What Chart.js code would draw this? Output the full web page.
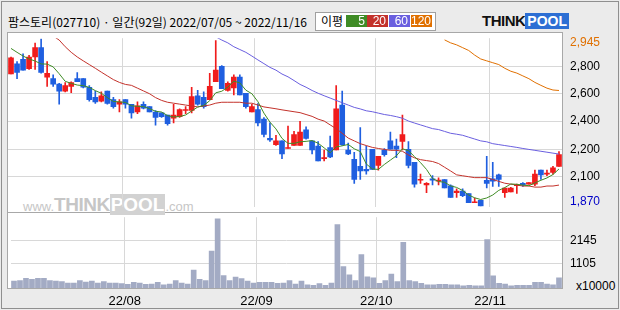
<!DOCTYPE html>
<html>
<head>
<meta charset="utf-8">
<script src="https://cdn.jsdelivr.net/npm/chart.js@4.4.1/dist/chart.umd.min.js"></script>
<style>
  html, body { margin: 0; padding: 0; }
  body { width: 620px; height: 310px; background: #ebebeb; position: relative; overflow: hidden; font-family: "Liberation Sans", Arial, sans-serif; }
  .frame { position: absolute; left: 1px; top: 1px; width: 618px; height: 308px; box-sizing: border-box; border: 1px solid #8f8f8f; }
  .panel { position: absolute; left: 7px; width: 556px; box-sizing: border-box; border: 1px solid #a8a8a8; background: #fff; }
  #p1 { top: 32px; height: 181px; }
  #p2 { top: 212px; height: 77px; }
  canvas { position: absolute; }
  #price { left: 8px; top: 23px; }
  #volume { left: 8px; top: 202px; }
  #title { position: absolute; left: 8px; top: 14px; font: 12px "Noto Sans CJK KR"; line-height: 16px; color: #000; white-space: nowrap; }
  #maBox { position: absolute; left: 315px; top: 12px; width: 121px; height: 19px; box-sizing: border-box; border: 1px solid #a0a0a0; background: #fff; }
  #maLbl { position: absolute; left: 321px; top: 13px; font: 12px "Noto Sans CJK KR"; line-height: 16px; }
  .ma { position: absolute; top: 15px; width: 21px; height: 12px; box-sizing: border-box; padding-right: 2px; text-align: right; color: #fff; font: 12px "Liberation Sans"; line-height: 12px; }
  #logo { position: absolute; left: 482px; top: 13px; height: 16px; white-space: nowrap; }
  #logo .think { font: bold 15px "Liberation Sans"; color: #111; letter-spacing: -0.5px; vertical-align: top; line-height: 16px; }
  #logo .pool { display: inline-block; font: bold 14px "Liberation Sans"; color: #fff; background: #2d6fd4; padding: 0 2px; line-height: 16px; vertical-align: top; }
  #wm { position: absolute; left: 23px; top: 194px; color: #c6c6c6; white-space: nowrap; }
  #wm .s { font: 13px "Liberation Sans"; }
  #wm .b { font: bold 19px "Liberation Sans"; letter-spacing: -0.5px; }
  #wm .p { font: bold 19px "Liberation Sans"; color: #fff; background: #d2d2d2; padding: 0 1px; }
  #unit { position: absolute; left: 576px; top: 279px; font: 12px "Liberation Sans"; color: #000; }
</style>
</head>
<body>
<div class="frame"></div>
<div class="panel" id="p1"></div>
<div class="panel" id="p2"></div>
<div id="wm"><span class="s">www.</span><span class="b">THINK</span><span class="p">POOL</span><span class="s">.com</span></div>
<div id="title">팜스토리(027710) · 일간(92일) 2022/07/05 ~ 2022/11/16</div>
<div id="maBox"></div>
<div id="maLbl">이평</div>
<div id="logo"><span class="think">THINK</span><span class="pool">POOL</span></div>
<div id="unit">x10000</div>
<canvas id="price" width="612" height="199"></canvas>
<canvas id="volume" width="612" height="108"></canvas>
<script>
// trading days (2022)
const julDays = [5,6,7,8,11,12,13,14,15,18,19,20,21,22,25,26,27,28,29];
const augDays = [1,2,3,4,5,8,9,10,11,12,16,17,18,19,22,23,24,25,26,29,30,31];
const sepDays = [1,2,5,6,7,8,13,14,15,16,19,20,21,22,23,26,27,28,29,30];
const octDays = [4,5,6,7,11,12,13,14,17,18,19,20,21,24,25,26,27,28,31];
const novDays = [1,2,3,4,7,8,9,10,11,14,15,16];

const opens = [2720,2785,2815,2755,2830,2890,2700,2690,2655,2610,
  2640,2690,2690,2635,2570,2545,2610,2555,2525,2555,
  2525,2475,2525,2510,2475,2470,2455,2435,2445,2485,
  2485,2580,2570,2555,2670,2770,2615,2630,2700,2595,
  2475,2490,2430,2305,2265,2290,2240,2260,2260,2360,
  2290,2255,2175,2245,2230,2520,2230,2170,2125,2105,
  2235,2130,2230,2290,2255,2285,2235,2150,2035,2005,
  2045,2030,2040,2000,1955,1965,1950,1890,1905,2035,
  2045,2070,1955,1960,2000,2015,2010,2010,2100,2075,
  2085,2125];
const highs = [2830,2800,2850,2840,2920,2945,2800,2715,2660,2665,
  2670,2730,2690,2645,2610,2605,2610,2570,2555,2555,
  2525,2540,2540,2510,2485,2470,2455,2525,2495,2510,
  2635,2615,2605,2725,2935,2775,2670,2715,2715,2595,
  2525,2530,2440,2405,2325,2290,2385,2350,2415,2380,
  2290,2285,2230,2320,2645,2610,2275,2215,2375,2255,
  2235,2190,2240,2345,2300,2455,2285,2150,2075,2020,
  2065,2050,2040,2005,1980,1980,1950,1920,1905,2190,
  2150,2075,1985,1990,2010,2020,2020,2100,2100,2100,
  2125,2220];
const lows = [2720,2690,2745,2750,2750,2725,2640,2640,2525,2605,
  2600,2670,2630,2545,2530,2540,2525,2500,2475,2500,
  2435,2465,2495,2475,2390,2440,2390,2405,2440,2465,
  2470,2520,2500,2555,2670,2625,2610,2585,2585,2500,
  2475,2385,2315,2285,2260,2175,2240,2260,2260,2300,
  2205,2160,2160,2180,2230,2260,2200,2015,2040,2075,
  2105,2100,2190,2235,2180,2230,2115,1990,2015,1955,
  2005,2005,1985,1925,1925,1930,1890,1890,1870,1985,
  1995,1995,1925,1960,1950,1995,2010,2000,2040,2065,
  2075,2125];
const closes = [2825,2730,2745,2830,2890,2730,2725,2655,2610,2645,
  2665,2670,2635,2555,2540,2580,2530,2510,2540,2525,
  2470,2515,2500,2475,2440,2445,2400,2455,2490,2490,
  2575,2525,2510,2640,2745,2625,2660,2700,2585,2510,
  2510,2405,2330,2295,2290,2205,2245,2330,2345,2305,
  2230,2160,2180,2185,2495,2265,2205,2040,2095,2095,
  2105,2190,2200,2235,2235,2330,2130,2010,2040,2015,
  2035,2035,1985,1925,1965,1935,1890,1895,1870,2015,
  2030,2040,1985,1985,2005,2005,2020,2075,2070,2080,
  2115,2200];
// volume, x10000 shares
const volumes = [307,336,433,391,433,433,336,307,294,223,
  223,336,265,307,223,294,223,223,198,168,
  252,223,168,181,252,139,181,336,223,181,
  812,391,336,1669,3124,559,336,492,420,307,
  223,252,252,252,210,223,336,181,315,147,
  126,198,126,223,2859,967,589,336,1514,505,
  463,210,336,631,294,2060,336,294,210,139,
  139,168,168,139,139,97,126,97,97,2187,
  547,210,181,97,126,126,126,252,252,181,
  139,463];

// moving averages
const ma5 = [2885,2860,2836,2817,2804,2785,2784,2766,2722,2673,
  2660,2649,2645,2634,2613,2596,2568,2543,2540,2537,
  2515,2512,2510,2497,2480,2475,2452,2443,2446,2456,
  2482,2507,2518,2548,2599,2609,2636,2674,2663,2616,
  2593,2542,2468,2410,2366,2305,2273,2273,2283,2286,
  2291,2274,2244,2212,2250,2257,2266,2238,2220,2140,
  2108,2105,2137,2165,2193,2238,2226,2188,2149,2105,
  2046,2027,2022,1999,1989,1969,1940,1922,1911,1921,
  1940,1970,1988,2011,2009,2004,2000,2018,2035,2050,
  2072,2108];
const ma20 = [null,null,null,null,null,null,null,2965,2939,2896,
  2860,2830,2805,2781,2757,2732,2708,2684,2666,2653,
  2647,2629,2611,2593,2568,2550,2538,2532,2526,2520,
  2514,2508,2514,2520,2532,2538,2538,2538,2538,2532,
  2532,2520,2508,2502,2496,2489,2483,2477,2471,2459,
  2447,2429,2417,2392,2368,2338,2307,2289,2271,2259,
  2247,2240,2234,2228,2228,2222,2198,2180,2168,2162,
  2156,2143,2119,2095,2070,2064,2058,2052,2052,2052,
  2040,2028,2016,2010,2004,1998,1998,1991,1991,1998,
  1998,2004];
const ma60 = [null,null,null,null,null,null,null,null,null,null,
  null,null,null,null,null,null,null,null,null,null,
  null,null,null,null,null,null,null,null,null,null,
  null,null,null,null,2960,2939,2921,2896,2878,2860,
  2836,2811,2787,2763,2745,2720,2702,2678,2653,2635,
  2614,2596,2580,2565,2550,2535,2520,2505,2495,2483,
  2477,2468,2459,2453,2445,2435,2417,2404,2392,2380,
  2368,2362,2350,2338,2332,2325,2313,2301,2289,2283,
  2271,2265,2259,2253,2247,2240,2234,2228,2222,2216,
  2210,2204];
const ma120 = [null,null,null,null,null,null,null,null,null,null,
  null,null,null,null,null,null,null,null,null,null,
  null,null,null,null,null,null,null,null,null,null,
  null,null,null,null,null,null,null,null,null,null,
  null,null,null,null,null,null,null,null,null,null,
  null,null,null,null,null,null,null,null,null,null,
  null,null,null,null,null,null,null,null,null,null,
  null,null,2940,2921,2908,2890,2872,2842,2817,2805,
  2793,2781,2757,2738,2726,2708,2690,2666,2647,2629,
  2617,2614];

const maPeriods = ["5", "20", "60", "120"];
const maColors = ["#3f8c25", "#c3322b", "#6a5fdf", "#e07000"];
const maLeft = [346, 367, 389, 411];

// price axis: gridline positions and the labels the original prints there
const priceTickVals = [1894, 2058, 2234, 2417, 2593, 2769, 2921];
const priceTickText = ["1,870", "2,100", "2,200", "2,400", "2,600", "2,800", "2,945"];
const volTickVals = [1105, 2145];

const UP = "#f01c1c", DOWN = "#1f5fe0";

const months = [["07", julDays], ["08", augDays], ["09", sepDays], ["10", octDays], ["11", novDays]];
const dates = [];
const monthStarts = [];
const monthText = {};
months.forEach(([m, days], k) => {
  if (k > 0) { monthStarts.push(dates.length); monthText[dates.length] = "22/" + m; }
  days.forEach(d => dates.push("2022-" + m + "-" + String(d).padStart(2, "0")));
});

// legend boxes
maPeriods.forEach((p, i) => {
  const el = document.createElement("div");
  el.className = "ma";
  el.style.left = maLeft[i] + "px";
  el.style.background = maColors[i];
  el.textContent = p;
  document.body.appendChild(el);
});

const candleColors = dates.map((d, i) => closes[i] >= opens[i] ? UP : DOWN);
const gridColor = "#d8d8d8";
const monthGrid = (ctx) => monthStarts.includes(ctx.index) ? gridColor : "rgba(0,0,0,0)";

const maLine = (label, data, color) => ({
  type: "line", label: label, data: data, borderColor: color, borderWidth: 1,
  pointRadius: 0, tension: 0, fill: false, order: 0
});

new Chart(document.getElementById("price"), {
  type: "bar",
  data: {
    labels: dates,
    datasets: [
      maLine("MA5", ma5, maColors[0]),
      maLine("MA20", ma20, maColors[1]),
      maLine("MA60", ma60, maColors[2]),
      maLine("MA120", ma120, maColors[3]),
      {
        label: "body", data: dates.map((d, i) => [opens[i], closes[i]]),
        backgroundColor: candleColors, barThickness: 5, minBarLength: 1, grouped: false, order: 1
      },
      {
        label: "wick", data: dates.map((d, i) => [lows[i], highs[i]]),
        backgroundColor: candleColors, barThickness: 1, grouped: false, order: 2
      }
    ]
  },
  options: {
    responsive: false,
    animation: false,
    devicePixelRatio: 1,
    layout: { padding: { top: 10, bottom: 10, left: 0, right: 0 } },
    plugins: { legend: { display: false }, tooltip: { enabled: false } },
    scales: {
      x: {
        offset: true,
        grid: { offset: true, drawTicks: false, color: monthGrid },
        ticks: { display: false, autoSkip: false },
        border: { display: false },
        afterFit: (s) => { s.height = 0; }
      },
      y: {
        position: "right",
        min: 1864, max: 2951,
        afterBuildTicks: (s) => { s.ticks = priceTickVals.map(v => ({ value: v })); },
        afterFit: (s) => { s.width = 58; },
        grid: {
          drawTicks: false,
          color: (ctx) => (ctx.index === 0 || ctx.index === priceTickVals.length - 1) ? "rgba(0,0,0,0)" : gridColor
        },
        border: { display: false },
        ticks: {
          padding: 8,
          font: { family: "Liberation Sans", size: 12 },
          color: (ctx) => ctx.index === 0 ? "#0000c8" : (ctx.index === priceTickVals.length - 1 ? "#e07000" : "#000"),
          callback: (v, i) => priceTickText[i]
        }
      }
    }
  }
});

new Chart(document.getElementById("volume"), {
  type: "bar",
  data: {
    labels: dates,
    datasets: [{ label: "volume", data: volumes, backgroundColor: "#a3abc4", barThickness: 5 }]
  },
  options: {
    responsive: false,
    animation: false,
    devicePixelRatio: 1,
    layout: { padding: { top: 10, bottom: 0, left: 0, right: 0 } },
    plugins: { legend: { display: false }, tooltip: { enabled: false } },
    scales: {
      x: {
        offset: true,
        grid: { offset: true, drawTicks: false, color: monthGrid },
        border: { display: false },
        ticks: {
          autoSkip: false, maxRotation: 0, padding: 6, labelOffset: -3,
          font: { family: "Liberation Sans", size: 13 }, color: "#000",
          callback: (v, i) => monthText[i] || ""
        },
        afterFit: (s) => { s.height = 22; }
      },
      y: {
        position: "right",
        min: 0, max: 3196,
        afterBuildTicks: (s) => { s.ticks = volTickVals.map(v => ({ value: v })); },
        afterFit: (s) => { s.width = 58; },
        grid: { drawTicks: false, color: gridColor },
        border: { display: false },
        ticks: {
          padding: 8,
          font: { family: "Liberation Sans", size: 12 },
          color: "#000",
          callback: (v) => String(v)
        }
      }
    }
  }
});
</script>
</body>
</html>
